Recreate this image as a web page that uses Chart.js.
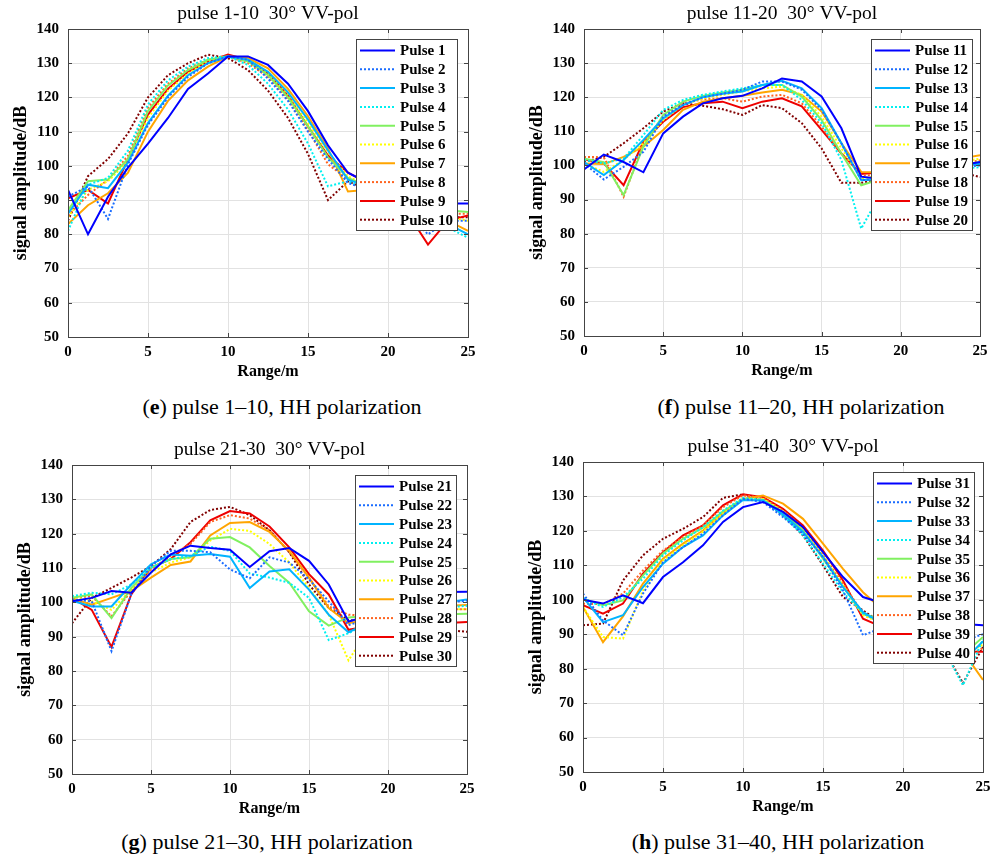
<!DOCTYPE html>
<html>
<head>
<meta charset="utf-8">
<script src="https://cdn.jsdelivr.net/npm/chart.js@4.4.0/dist/chart.umd.min.js"></script>
<style>
  body { margin: 0; background: #fff; }
  #page { position: relative; width: 999px; height: 861px; overflow: hidden; background: #fff; }
  #page canvas { position: absolute; }
  .cap { position: absolute; font-family: "Liberation Serif", serif; font-size: 22px; color: #000;
         white-space: nowrap; transform: translate(-50%, -50%); }
</style>
</head>
<body>
<div id="page">
  <canvas id="chartE"></canvas>
  <canvas id="chartF"></canvas>
  <canvas id="chartG"></canvas>
  <canvas id="chartH"></canvas>
  <div class="cap" style="left:282px;top:407px">(<b>e</b>) pulse 1–10, HH polarization</div>
  <div class="cap" style="left:801px;top:407px">(<b>f</b>) pulse 11–20, HH polarization</div>
  <div class="cap" style="left:267px;top:842px">(<b>g</b>) pulse 21–30, HH polarization</div>
  <div class="cap" style="left:778px;top:842px">(<b>h</b>) pulse 31–40, HH polarization</div>
</div>
<script>
// range samples (m) and axis ticks
var rangeM = [0, 1.25, 2.5, 3.75, 5, 6.25, 7.5, 8.75, 10, 11.25, 12.5, 13.75, 15, 16.25, 17.5, 18.75, 20, 21.25, 22.5, 23.75, 25];
var xTicks = [0, 5, 10, 15, 20, 25];
var yTicks = [50, 60, 70, 80, 90, 100, 110, 120, 130, 140];

// signal amplitude (dB), one row per pulse
var pulses1to10 = [
  [93, 80, 91, 99.5, 106.5, 114, 122.5, 127, 132, 132, 129.5, 124, 116, 106, 98, 95, 92, 90, 88, 89, 89],
  [91, 94, 84.5, 100.5, 112, 120, 126, 130, 132, 131, 125.5, 119, 110, 102, 95, 93, 89, 86, 80, 84, 84],
  [86, 94.5, 93.5, 101, 112.5, 120.5, 126.5, 130, 132, 131, 127.5, 121.5, 113.5, 104.5, 96, 94, 90, 87, 84, 83, 80],
  [81, 94.5, 96.5, 104.5, 118, 125, 129, 131.5, 132, 129.5, 124, 116.5, 106.5, 94, 95.5, 93, 89, 86, 83, 82, 79],
  [87, 95.5, 96, 102, 116, 123.5, 128, 131, 132, 130.5, 126.5, 120, 111.5, 102.5, 96.5, 94, 91, 89, 86, 87, 86.5],
  [85, 93, 95.5, 101.5, 114, 122, 127, 130.5, 132, 131, 127, 121, 112.5, 104, 97, 94, 90, 88, 85, 85, 84],
  [83, 88.5, 92, 98, 110, 119, 125, 129, 132, 131.5, 128.5, 122.5, 114.5, 105, 92.5, 93, 90, 87, 84, 84, 81],
  [85.5, 91.5, 96, 103, 117, 124, 128.5, 131, 132, 130, 126, 119.5, 110.5, 100.5, 96, 94, 91, 88, 85, 86, 86],
  [90.5, 93, 89, 102, 115, 122.5, 127.5, 130.5, 132.5, 131, 127, 120.5, 111.5, 103, 98, 95, 91, 86, 77, 84, 85.5],
  [84, 97, 102, 109.5, 120, 126.5, 130, 132.5, 131.5, 128, 122, 114, 103.5, 90, 95.5, 93, 90, 87, 84, 85, 85]
];
var pulses11to20 = [
  [98.8, 103.2, 101, 98, 109.4, 114.3, 118.2, 119.7, 120.4, 122.6, 125.5, 124.6, 120.2, 110.9, 96.7, 96, 97, 98, 99, 100, 101],
  [100.6, 95.9, 99.6, 104, 114.3, 117.7, 120, 121, 122.2, 124.6, 124.6, 122.2, 116.3, 106.5, 95.7, 96, 97, 98, 99, 99.5, 100],
  [101, 97.2, 101.6, 107.5, 113.8, 117.7, 120, 121, 121.7, 123.6, 124.8, 122.6, 116.8, 106.5, 95.7, 96, 97, 98, 99, 100, 100.5],
  [101.6, 100.6, 102, 108.9, 116.3, 119.2, 120.7, 121.7, 122.6, 123.6, 123.6, 119.2, 112.4, 101.6, 81.5, 92, 96, 97, 98, 99, 99.5],
  [102, 101, 91.3, 105.5, 114.8, 118.7, 120.4, 121.4, 122.2, 123.6, 123.6, 120.2, 113.3, 103.5, 94.2, 96, 97, 98, 99, 100, 101],
  [100.6, 98.1, 101.6, 106.5, 113.3, 117.7, 119.7, 120.7, 121.7, 122.6, 123.1, 120.7, 114.3, 105, 96.2, 97, 98, 99, 100, 101, 102],
  [100.6, 100.4, 102.5, 105.5, 110.4, 116.3, 118.7, 119.7, 120.4, 121.4, 122.2, 120.7, 115.8, 106.5, 98.1, 98, 99, 100, 101, 102, 103],
  [102.5, 102.4, 90.8, 106.5, 114.3, 118.2, 119.4, 119.7, 118.7, 120.2, 120.7, 118.2, 111.4, 103.5, 97.2, 97, 98, 99, 100, 100.5, 101.5],
  [101.8, 100.6, 94.2, 107, 112.8, 117.1, 118.2, 118.7, 116.8, 118.7, 119.7, 117.3, 110.4, 103.5, 97.5, 98, 98, 99, 99.5, 100, 100.5],
  [101, 102.5, 106.5, 110.9, 115.8, 118.2, 117.5, 116.5, 114.8, 117.7, 116.8, 112.4, 105, 94.9, 94.9, 96, 97, 98, 98, 98, 96.6]
];
var pulses21to30 = [
  [100.3, 101.3, 103.3, 102.8, 108.7, 114, 116.5, 115.8, 115.3, 110.3, 114.9, 115.8, 112.1, 105.2, 94.4, 96, 99, 101, 102, 103, 103.1],
  [100.8, 100.3, 85.8, 102.3, 110.6, 115, 115, 114.6, 109.6, 107, 113.1, 111.6, 106.7, 100.3, 93.4, 95, 97, 98, 99, 100, 100.5],
  [100.5, 98.8, 98.8, 105.2, 111.1, 113.9, 113.6, 114.1, 113.3, 104.2, 109, 109.6, 103.7, 96.4, 91.3, 94, 96, 98, 99, 100, 100.8],
  [101.8, 102.8, 102.3, 105.2, 110.1, 112.6, 113.6, 116.2, 115, 108.4, 107.2, 105.7, 101.3, 89, 91, 94, 96, 97, 98, 98.5, 99],
  [101.3, 102.3, 95.4, 104.2, 110.1, 112.6, 113.1, 118.5, 119, 116, 110.6, 105.7, 97.4, 93.2, 95.6, 96, 96, 96.5, 96.5, 96.5, 96.7],
  [101.8, 100.3, 97.8, 103.7, 108.7, 111.6, 113.1, 118, 121.4, 120.8, 117, 111.6, 104.2, 96.4, 83.1, 92, 95, 97, 98, 98, 98],
  [101.1, 99.3, 101.3, 103.3, 107.2, 110.9, 111.9, 119.5, 123.1, 123.4, 120.5, 115, 107.2, 98.3, 93.9, 95, 96, 97, 98, 99, 99.2],
  [101.3, 101.8, 95.9, 103.3, 109.6, 113.6, 117, 123.4, 125.4, 124.4, 121, 114.6, 107.2, 98.8, 96.4, 96, 97, 97.5, 98, 98, 98],
  [101.3, 97.8, 87, 102.3, 110.1, 112.6, 117.5, 123.9, 126.6, 125.9, 122.1, 116, 108.2, 102.3, 92, 93, 93.5, 94, 94, 94, 94.3],
  [93.9, 101.3, 104.2, 107.2, 110.6, 115.5, 123.4, 126.9, 127.8, 125.4, 121, 114.6, 105.2, 98.3, 94.9, 94, 93, 93, 92, 92, 91.4]
];
var pulses31to40 = [
  [100, 98.9, 101.3, 99, 106.6, 110.9, 115.8, 122.6, 126.9, 128.4, 125.5, 121.1, 113.8, 106.6, 100.8, 99, 97, 95.5, 94, 93, 92.6],
  [101.8, 94, 89.7, 101.8, 110.9, 115.3, 119.2, 124.5, 129.3, 128.4, 124, 119.2, 112.4, 102.7, 89.7, 92, 91, 90, 89, 88, 90],
  [100.8, 93.5, 95.5, 103.7, 110.5, 115.3, 118.7, 124.5, 129, 128.8, 124.8, 119.7, 112.4, 103.7, 96.4, 93, 91, 89, 87, 82, 88],
  [100.3, 97.9, 100.8, 106.1, 112.9, 117.2, 121.1, 125.9, 129.6, 129, 124.5, 118.7, 110.5, 102.2, 96, 93, 91, 89, 86, 75.2, 88.5],
  [100.3, 98.4, 99.8, 107.1, 113.4, 117.7, 120.9, 125.7, 129.3, 129, 125.5, 120.1, 111.9, 103.7, 96, 94, 92, 90, 88, 84, 89.2],
  [97.9, 89.2, 88.7, 102.7, 111.4, 115.8, 119.7, 125.2, 129, 129.3, 125.7, 120.6, 112.9, 104.2, 95.5, 93, 91, 89, 87, 84, 87],
  [97.9, 87.7, 95.2, 104.7, 111.9, 116.3, 120.1, 125.2, 129.3, 130.3, 127.9, 123.5, 116.3, 109, 102.2, 97, 93, 90, 87, 85, 76.7],
  [98.9, 98.7, 101.8, 108.5, 114.3, 118.2, 121.6, 126.9, 130.3, 129.6, 125.9, 120.9, 112.9, 104.7, 96, 93, 91, 89, 87, 83, 86],
  [98.4, 96, 98.9, 107.6, 113.8, 118.7, 121.6, 127.4, 130.6, 129.8, 126.4, 121.6, 114.3, 105.6, 94.5, 92, 90, 88, 86, 85, 84.9],
  [92.6, 93.1, 105.6, 112.9, 117.7, 120.6, 124, 129.6, 130.6, 128.8, 124.5, 118.7, 110, 100.8, 96.9, 93, 91, 89, 86, 75.8, 86.3]
];
var firstPulse = [1, 11, 21, 31];
var panelTitles = ['pulse 1-10  30° VV-pol', 'pulse 11-20  30° VV-pol', 'pulse 21-30  30° VV-pol', 'pulse 31-40  30° VV-pol'];

// line styles (jet-like colours, solid / dotted alternating)
var lineColors = ['#0000ff', '#1a6cff', '#00b4ff', '#00f0f0', '#80f060', '#ffff00', '#ffa500', '#ff6420', '#ee0000', '#800000'];

var SERIF = '"Liberation Serif", "Times New Roman", serif';
Chart.defaults.font.family = SERIF;

// white legend box inside the axes + matlab style frame with inner ticks
var matlabBox = {
    id: 'matlabBox',
    afterDatasetsDraw: function (chart, args, opts) {
        var ca = chart.chartArea, ctx = chart.ctx;
        var bx = Math.round(ca.right - opts.rightInset - opts.width);
        var by = Math.round(ca.top + opts.topInset);
        ctx.save();
        ctx.fillStyle = '#fff';
        ctx.fillRect(bx, by, opts.width, opts.height);
        ctx.strokeStyle = '#444';
        ctx.lineWidth = 1;
        ctx.strokeRect(bx + 0.5, by + 0.5, opts.width, opts.height);
        ctx.font = 'bold 15px ' + SERIF;
        ctx.textBaseline = 'middle';
        chart.data.datasets.forEach(function (ds, i) {
            var y = by + 11.5 + i * opts.rowHeight;
            ctx.beginPath();
            ctx.setLineDash(ds.borderDash);
            ctx.strokeStyle = ds.borderColor;
            ctx.lineWidth = 2;
            ctx.moveTo(bx + 4, y);
            ctx.lineTo(bx + 39, y);
            ctx.stroke();
            ctx.setLineDash([]);
            ctx.fillStyle = '#000';
            ctx.fillText(ds.label, bx + 44, y + 1);
        });
        ctx.restore();
    },
    afterDraw: function (chart) {
        var ca = chart.chartArea, ctx = chart.ctx;
        ctx.save();
        ctx.strokeStyle = '#444';
        ctx.lineWidth = 1;
        ctx.beginPath();
        chart.scales.x.ticks.forEach(function (t) {
            var px = Math.round(chart.scales.x.getPixelForValue(t.value)) + 0.5;
            ctx.moveTo(px, ca.bottom); ctx.lineTo(px, ca.bottom - 4);
            ctx.moveTo(px, ca.top); ctx.lineTo(px, ca.top + 4);
        });
        chart.scales.y.ticks.forEach(function (t) {
            var py = Math.round(chart.scales.y.getPixelForValue(t.value)) + 0.5;
            ctx.moveTo(ca.left, py); ctx.lineTo(ca.left + 4, py);
            ctx.moveTo(ca.right, py); ctx.lineTo(ca.right - 4, py);
        });
        ctx.stroke();
        ctx.strokeRect(Math.round(ca.left) + 0.5, Math.round(ca.top) + 0.5,
            Math.round(ca.right - ca.left), Math.round(ca.bottom - ca.top));
        ctx.restore();
    }
};

// axes rectangles on the page: left, top, right, bottom
var plotRects = [[68, 29, 468, 337], [584, 29, 980, 336], [72, 465, 467, 774], [583, 462, 983, 772]];
var legendRightInset = [11, 8, 11, 9];
var allPulses = [pulses1to10, pulses11to20, pulses21to30, pulses31to40];
var canvasIds = ['chartE', 'chartF', 'chartG', 'chartH'];

var Y_AXIS_W = 68, TITLE_H = 29, X_AXIS_H = 49, PAD_R = 16;

function makePanel(p) {
    var r = plotRects[p];
    var cv = document.getElementById(canvasIds[p]);
    var w = r[2] - r[0] + Y_AXIS_W + PAD_R;
    var h = r[3] - r[1] + TITLE_H + X_AXIS_H;
    cv.width = w; cv.height = h;
    cv.style.width = w + 'px'; cv.style.height = h + 'px';
    cv.style.left = (r[0] - Y_AXIS_W) + 'px';
    cv.style.top = (r[1] - TITLE_H) + 'px';

    var datasets = allPulses[p].map(function (row, i) {
        return {
            label: 'Pulse ' + (firstPulse[p] + i),
            data: rangeM.map(function (x, k) { return { x: x, y: row[k] }; }),
            borderColor: lineColors[i],
            borderWidth: 2,
            borderDash: i % 2 ? [2, 2] : [],
            pointRadius: 0,
            fill: false,
            tension: 0
        };
    });

    var tickFont = { family: SERIF, size: 15, weight: 'bold' };
    new Chart(cv, {
        type: 'line',
        data: { datasets: datasets },
        options: {
            responsive: false,
            animation: false,
            layout: { padding: { left: 0, right: PAD_R, top: 0, bottom: 0 } },
            plugins: {
                legend: { display: false },
                tooltip: { enabled: false },
                title: {
                    display: true, text: panelTitles[p], fullSize: false, color: '#000',
                    font: { family: SERIF, size: 19.5, weight: 'normal', lineHeight: '22px' },
                    padding: { top: 3, bottom: 4 }
                },
                matlabBox: { rightInset: legendRightInset[p], topInset: 10, width: 101, height: 191, rowHeight: 18.8 }
            },
            scales: {
                x: {
                    type: 'linear', min: 0, max: 25,
                    afterBuildTicks: function (axis) { axis.ticks = xTicks.map(function (v) { return { value: v }; }); },
                    afterFit: function (s) { s.height = X_AXIS_H; },
                    grid: { color: '#e2e2e2', drawTicks: false },
                    border: { display: false },
                    ticks: { color: '#000', font: tickFont, padding: 6, maxRotation: 0, autoSkip: false },
                    title: { display: true, text: 'Range/m', color: '#000',
                             font: { family: SERIF, size: 16, weight: 'bold' }, padding: { top: 0, bottom: 5 } }
                },
                y: {
                    min: 50, max: 140,
                    afterBuildTicks: function (axis) { axis.ticks = yTicks.map(function (v) { return { value: v }; }); },
                    afterFit: function (s) { s.width = Y_AXIS_W; },
                    grid: { color: '#e2e2e2', drawTicks: false },
                    border: { display: false },
                    ticks: { color: '#000', font: tickFont, padding: 9 },
                    title: { display: true, text: 'signal amplitude/dB', color: '#000',
                             font: { family: SERIF, size: 18, weight: 'bold' }, padding: { top: 11, bottom: 0 } }
                }
            }
        },
        plugins: [matlabBox]
    });
}

for (var p = 0; p < 4; p++) {
    makePanel(p);
}
</script>
</body>
</html>
